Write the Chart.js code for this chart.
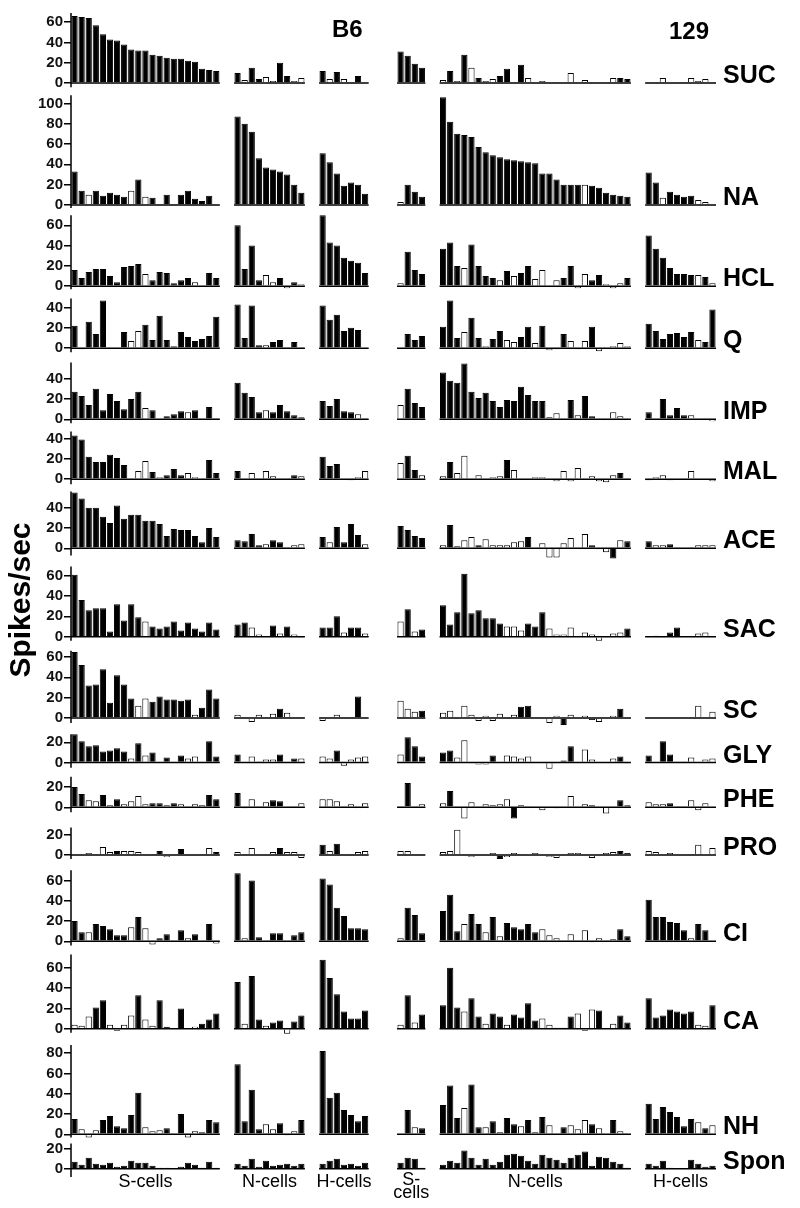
<!DOCTYPE html>
<html>
<head>
<meta charset="utf-8">
<title>Spikes/sec by cell type</title>
<script src="https://cdn.jsdelivr.net/npm/chart.js@4"></script>
<style>
  html, body { margin: 0; padding: 0; background: #fff; }
  canvas { display: block; }
</style>
</head>
<body>
<canvas id="chart" width="800" height="1208"></canvas>
<script>
// cell groups, left to right: B6 S/N/H, then 129 S/N/H
const groupNames = ["S-cells", "N-cells", "H-cells", "S-\ncells", "N-cells", "H-cells"];
const groupSizes = [21, 10, 7, 4, 27, 10];
const gapsBefore = [0, 2, 2, 4, 2, 2];
const strains = ["B6", "129"];

// each row: [B6 S, B6 N, B6 H, 129 S, 129 N, 129 H]
// open bars: "o" = open (white) bar, "." = filled bar
const SUC = [
  [66, 65, 64, 57, 48, 43, 42, 38, 33, 32, 32, 28, 27, 25, 24, 24, 22, 21, 14, 13, 12],
  [10, 3, 15, 4, 6, 2, 20, 7, 2, 5],
  [12, 4, 11, 4, 1, 7, 0],
  [31, 27, 19, 15],
  [3, 12, 2, 28, 15, 5, 2, 4, 7, 14, 1, 18, 5, 1, 2, -1, 1, 0, 10, 0, 3, 1, 0, -1, 5, 5, 4],
  [-1, 1, 5, -1, 0, 1, 5, 2, 4, 0]
];
const SUC_OPEN = "..................... .o..oo..oo .o.o... .... o.o.o.oo..o.ooooo.o.oo.oo.. oooo.oooo.";

const NA = [
  [33, 14, 10, 14, 9, 12, 10, 8, 14, 25, 8, 7, 0, 10, 1, 10, 14, 6, 4, 9, 0],
  [87, 80, 72, 46, 37, 35, 33, 30, 20, 12],
  [51, 42, 31, 19, 22, 20, 11],
  [3, 20, 13, 8],
  [106, 82, 70, 69, 67, 57, 52, 49, 47, 45, 44, 43, 42, 41, 31, 31, 25, 20, 20, 20, 20, 19, 17, 12, 10, 9, 8],
  [32, 22, 7, 13, 10, 8, 9, 5, 3, 0]
];
const NA_OPEN = "..o.....o.o.......... .......... ....... o... ....................o...... ..o....oo.";

const HCL = [
  [16, 8, 14, 17, 17, 10, 4, 19, 20, 22, 12, 6, 14, 13, 3, 6, 8, 4, 0, 13, 8],
  [60, 17, 40, 6, 11, 4, 8, -2, 4, 2],
  [70, 43, 40, 28, 25, 23, 13],
  [3, 34, 16, 12],
  [37, 43, 20, 18, 41, 20, 10, 8, 6, 15, 10, 13, 20, 7, 16, 0, 6, 8, 20, -2, 12, 6, 11, 2, -2, 3, 8],
  [50, 37, 28, 18, 12, 12, 11, 11, 9, 3]
];
const HCL_OPEN = "..........o......o... ....oo.o.o ....... o... ...o....o.o..oo.o..oo..ooo. .......o.o";

const Q = [
  [22, -1, 26, 14, 47, 1, 1, 16, 7, 17, 23, 8, 32, 8, 2, 16, 11, 7, 9, 12, 31],
  [43, 10, 42, 3, 3, 6, 8, 1, 6, 1],
  [42, 28, 33, 17, 20, 18, 0],
  [0, 14, 8, 12],
  [21, 47, 10, 16, 30, 10, 2, 9, 17, 8, 6, 11, 21, 5, 22, -2, -1, 14, 7, -1, 7, 21, -3, 1, 2, 5, 2],
  [24, 17, 9, 14, 15, 11, 16, 8, 6, 38]
];
const Q_OPEN = "......o.oo........... ....o..... ....... .... ...o..o..oo..o.oo.ooo.ooooo .......o..";

const IMP = [
  [27, 23, 14, 30, 9, 25, 18, 10, 20, 27, 11, 9, 0, 3, 5, 8, 7, 9, 0, 12, 1],
  [36, 26, 22, 7, 9, 7, 14, 8, 4, 2],
  [18, 13, 20, 8, 7, 5, 1],
  [14, 30, 16, 12],
  [46, 38, 36, 55, 27, 21, 26, 18, 12, 19, 18, 32, 24, 18, 18, 2, 6, 0, 19, 4, 23, 3, 0, -1, 7, 3, -1],
  [7, 0, 20, 4, 11, 4, 4, -1, 1, -2]
];
const IMP_OPEN = "..........o.....o.... ....o..... .....o. o... ...............oo..o...oooo ......oooo";

const MAL = [
  [43, 39, 22, 17, 17, 24, 21, 14, 0, 8, 18, 7, 2, 4, 10, 4, 6, 2, 0, 19, 6],
  [8, 1, 6, 0, 8, 3, 1, 1, 4, 3],
  [22, 13, 15, 0, -1, 2, 8],
  [16, 23, 9, 4],
  [3, 17, 6, 23, 0, 4, 1, 2, 3, 19, 9, 0, 0, 2, 2, 0, -2, 8, -2, 11, 0, 3, -2, -3, 4, 6, 1],
  [-1, 2, 4, -1, 0, 1, 8, 0, 0, -2]
];
const MAL_OPEN = ".........oo.o...oo... .oo.oooo.o ....ooo o..o o.oo.oooo.o..oo.oooo.oooo.. oooo.oo..o";

const ACE = [
  [55, 49, 40, 40, 31, 25, 42, 29, 33, 33, 27, 27, 24, 12, 19, 18, 18, 12, 6, 20, 11],
  [8, 7, 14, 3, 4, 8, 6, 1, 3, 4],
  [11, 6, 21, 6, 24, 13, 4],
  [22, 18, 12, 10],
  [3, 23, 2, 8, 11, 3, 9, 3, 3, 3, 6, 7, 11, 0, 5, -9, -9, 5, 10, 0, 14, 3, -1, -4, -10, 8, 7],
  [7, 3, 3, 4, 1, 0, 1, 3, 3, 3]
];
const ACE_OPEN = "..................... ....o...oo .o....o .... o.ooo.oooooo..ooooo.o..o.o. .oo....ooo";

const SAC = [
  [61, 36, 26, 28, 28, 5, 32, 16, 32, 19, 15, 10, 8, 10, 15, 6, 14, 8, 5, 14, 7],
  [12, 14, 9, 2, 0, 11, 3, 10, 2, -1],
  [9, 9, 20, 4, 9, 9, 3],
  [15, 27, 5, 7],
  [31, 12, 24, 62, 23, 26, 18, 18, 13, 10, 10, 6, 13, 10, 24, 8, 2, 2, 9, 0, 4, 2, -4, -1, 3, 4, 8],
  [0, 1, -1, 4, 9, 0, 0, 3, 4, 0]
];
const SAC_OPEN = "..........o.......... ..oo..o.o. ...o..o o.o. .........ooo...oooo.oooooo. ..o....oo.";

const SC = [
  [65, 52, 32, 33, 48, 15, 42, 33, 19, 12, 19, 16, 21, 18, 18, 17, 18, 3, 10, 28, 19],
  [3, 1, -4, 3, 1, 4, 9, 5, 0, 1],
  [-3, 0, 3, 0, -1, 21, 0],
  [17, 9, 6, 7],
  [5, 7, -1, 12, 3, -3, 2, -3, 4, -1, 3, 11, 12, 0, 0, -5, 2, -7, 3, 0, 2, -2, -4, 0, 2, 9, 0],
  [0, 0, 1, 0, 0, 0, 0, 12, 1, 6]
];
const SC_OPEN = ".........oo......o... o.oo.o.o.. o.o.... ooo. ooooooooooo....oo.o.o.o.o.. ..o....ooo";

const GLY = [
  [28, 21, 16, 17, 11, 12, 14, 11, 4, 19, 7, 10, 0, 5, 0, 7, 4, 6, 0, 21, 6],
  [8, 0, 6, 1, 3, 3, 8, 0, 4, 4],
  [6, 4, 12, -3, 3, 5, 6],
  [8, 25, 16, 6],
  [10, 12, 5, 22, 0, -2, -2, 7, 0, 7, 6, 4, 6, 0, 0, -6, -1, 2, 16, 0, 13, 3, 0, 0, 4, 6, -1],
  [7, 0, 21, 8, 1, 1, 5, 0, 3, 4]
];
const GLY_OPEN = "........o.o.....oo... ..o.oo...o oo.oooo o... ..oo.oo..oooo..oo...oo..o.. ......o.oo";

const PHE = [
  [20, 13, 7, 6, 12, 2, 8, 3, 6, 11, 3, 4, 4, 2, 4, 3, 0, 3, 2, 12, 8],
  [14, -1, 8, 1, 5, 7, 6, 0, 1, 4],
  [8, 8, 6, 1, 3, -1, 4],
  [1, 24, 1, 3],
  [4, 16, 0, -11, 5, 0, 3, 2, 3, 8, -11, 2, 1, -1, -3, 0, -1, 0, 11, 0, 3, 2, -1, -6, 0, 7, 2],
  [5, 3, 3, 4, 1, 1, 7, -3, 4, -1]
];
const PHE_OPEN = "..oo.o.oooo..o.o.oo.. ..o.o....o ooo.ooo ...o o..oo.oooo.oooo...o.o.oo... ooo...oooo";

const PRO = [
  [0, -1, 2, 1, 8, 3, 4, 4, 4, 3, 0, 1, 4, -2, 0, 6, -1, -1, 1, 7, 3],
  [3, 1, 7, 0, 0, 3, 7, 3, 3, -3],
  [10, 4, 11, 0, -1, 3, 4],
  [4, 4, 0, 1],
  [3, 4, 25, 0, -2, 1, 0, 2, -4, -2, 2, 1, 0, 2, 0, -2, -3, 1, 2, 2, 1, -3, 0, 2, 3, 4, 2],
  [4, 3, -1, 2, 0, 0, 1, 10, 0, 7]
];
const PRO_OPEN = "..o.oo.ooo...o.....o. o.o..o.ooo .o...oo oo.. ooo.oo.o.oo..o.ooooo.o.oo.. oooo...o.o";

const CI = [
  [20, 9, 9, 17, 15, 12, 6, 6, 14, 24, 13, -3, 3, 7, 0, 11, 3, 7, 0, 17, -2],
  [67, 3, 60, 4, 0, 8, 8, -1, 6, 9],
  [62, 56, 33, 25, 13, 13, 12],
  [3, 33, 26, 8],
  [30, 46, 10, 17, 27, 17, 9, 24, 5, 18, 14, 12, 17, 9, 12, 6, 3, 0, 7, 0, 11, -1, 3, 0, 2, 12, 5],
  [41, 24, 24, 19, 18, 11, 3, 17, 11, 0]
];
const CI_OPEN = "..o.....o.oo....o...o .o.....o.. ....... o... ...o..o.o.....ooo.o.o.o.o.. ......o...";

const CA = [
  [4, 3, 12, 21, 28, 4, -2, 4, 13, 33, 9, 3, 28, 2, 0, 20, 0, 2, 5, 9, 15],
  [46, 5, 52, 9, 3, 6, 8, -5, 7, 13],
  [68, 50, 34, 17, 10, 10, 18],
  [4, 33, 6, 14],
  [23, 60, 21, 17, 30, 12, 5, 15, 12, 4, 14, 11, 25, 8, 10, 4, 1, 1, 12, 15, -2, 19, 18, 0, 5, 13, 6],
  [30, 11, 13, 19, 17, 15, 17, 4, 3, 23]
];
const CA_OPEN = "ooo..oooo.oo.....o... .o..o..o.. ....... o.o. ...o..o..o....oo...ooo..o.. .......oo.";

const NH = [
  [15, 5, -3, 4, 14, 18, 8, 6, 19, 41, 7, 3, 4, 6, 0, 20, -3, 3, 2, 14, 12],
  [69, 13, 44, 5, 10, 5, 11, -1, 3, 14],
  [82, 36, 41, 24, 19, 13, 18],
  [0, 24, 7, 6],
  [29, 48, 16, 26, 49, 7, 7, 13, 2, 16, 10, 8, 14, 2, 17, 9, 0, 7, 9, 5, 14, 10, 6, 0, 14, 3, 1],
  [30, 15, 27, 22, 17, 8, 15, 12, 6, 9]
];
const NH_OPEN = ".ooo......ooo...oo... ....oo..o. ....... ..o. ...o..o.o..o.o.o..ooo.o..oo .......o.o";

const SPON = [
  [7, 4, 11, 5, 4, 6, 2, 3, 8, 6, 6, 3, 1, 1, 0, 2, 6, 4, 1, 7, 1],
  [5, 3, 10, 2, 8, 3, 4, 5, 3, 5],
  [5, 8, 10, 4, 5, 3, 6],
  [6, 11, 10, 1],
  [4, 8, 6, 18, 11, 4, 10, 4, 7, 14, 15, 13, 8, 5, 14, 11, 9, 6, 11, 14, 17, 3, 12, 11, 7, 5, 1],
  [5, 3, 8, 1, 0, 0, 9, 5, 2, 3]
];
const SPON_OPEN = "";

const rows = [
  { name: "SUC", values: SUC, open: SUC_OPEN },
  { name: "NA", values: NA, open: NA_OPEN },
  { name: "HCL", values: HCL, open: HCL_OPEN },
  { name: "Q", values: Q, open: Q_OPEN },
  { name: "IMP", values: IMP, open: IMP_OPEN },
  { name: "MAL", values: MAL, open: MAL_OPEN },
  { name: "ACE", values: ACE, open: ACE_OPEN },
  { name: "SAC", values: SAC, open: SAC_OPEN },
  { name: "SC", values: SC, open: SC_OPEN },
  { name: "GLY", values: GLY, open: GLY_OPEN },
  { name: "PHE", values: PHE, open: PHE_OPEN },
  { name: "PRO", values: PRO, open: PRO_OPEN },
  { name: "CI", values: CI, open: CI_OPEN },
  { name: "CA", values: CA, open: CA_OPEN },
  { name: "NH", values: NH, open: NH_OPEN },
  { name: "Spon", values: SPON, open: SPON_OPEN }
];

// y ranges per row (spikes/sec): drawn axis top/bottom and the room each row gets
const axisTop = [69, 108, 70, 49, 56, 47, 56, 69, 66, 28, 30, 27, 70, 73, 88, 25];
const axisBottom = [-4, -3, -3, -4, -4, -5, -7, -4, -5, -5, -5, -4, -4, -4, -3, -8];
const bandTop = [69, 116, 77, 58, 66, 55, 63, 80, 76, 39, 39, 42, 81, 82, 100, 31];
const tickStep = 20;

const FONT = "Arial, 'Liberation Sans', sans-serif";

// category slots, with empty slots between groups
const groupStart = [];
let slotCount = 0;
groupSizes.forEach((n, g) => {
  slotCount += gapsBefore[g];
  groupStart.push(slotCount);
  slotCount += n;
});
const labels = Array.from({ length: slotCount }, (_, i) => String(i));

const datasets = rows.map((row, i) => {
  const data = new Array(slotCount).fill(null);
  const colors = new Array(slotCount).fill("#000");
  const flags = row.open.replace(/ /g, "");
  let k = 0;
  row.values.forEach((vals, g) => {
    vals.forEach((v, j) => {
      data[groupStart[g] + j] = v;
      if (flags[k] === "o") colors[groupStart[g] + j] = "#fff";
      k++;
    });
  });
  return {
    label: row.name,
    data,
    yAxisID: "y" + i,
    backgroundColor: colors,
    borderColor: "#000",
    borderWidth: 1,
    barPercentage: 0.88,
    categoryPercentage: 1,
    grouped: false,
    clip: false
  };
});

const scales = {
  x: { type: "category", display: false, offset: true }
};
// stacked left axes are laid out last-added on top, so add the bottom row first
for (let i = rows.length - 1; i >= 0; i--) {
  const ticks = [];
  for (let v = 0; v <= axisTop[i]; v += tickStep) ticks.push(v);
  scales["y" + i] = {
    type: "linear",
    position: "left",
    stack: "rows",
    stackWeight: bandTop[i] - axisBottom[i],
    min: axisBottom[i],
    max: bandTop[i],
    afterBuildTicks: (scale) => {
      scale.ticks = ticks.map((v) => ({ value: v }));
    },
    afterFit: (scale) => {
      scale.width = 71;
    },
    border: { display: false },
    grid: { drawOnChartArea: false, drawTicks: true, tickLength: 7, color: "#000", lineWidth: 1.5 },
    ticks: { autoSkip: false, padding: 1, color: "#111", font: { family: FONT, size: 15, weight: "bold" } }
  };
}

const decor = {
  id: "decor",
  afterDatasetsDraw(chart) {
    const { ctx, scales: sc, chartArea } = chart;
    const x = sc.x;
    const half = (x.getPixelForValue(1) - x.getPixelForValue(0)) / 2;
    ctx.save();
    ctx.strokeStyle = "#000";
    ctx.fillStyle = "#000";
    ctx.lineWidth = 1.5;
    rows.forEach((row, i) => {
      const y = sc["y" + i];
      const zero = y.getPixelForValue(0);
      ctx.beginPath();
      groupStart.forEach((start, g) => {
        ctx.moveTo(x.getPixelForValue(start) - half, zero);
        ctx.lineTo(x.getPixelForValue(start + groupSizes[g] - 1) + half, zero);
      });
      ctx.moveTo(y.right, y.getPixelForValue(axisBottom[i]));
      ctx.lineTo(y.right, y.getPixelForValue(axisTop[i]));
      ctx.stroke();
      ctx.font = "bold 25px " + FONT;
      ctx.textAlign = "left";
      ctx.textBaseline = "alphabetic";
      ctx.fillText(row.name, x.right + 7, zero);
    });

    // group names under the bottom row
    ctx.font = "18px " + FONT;
    ctx.textAlign = "center";
    groupNames.forEach((name, g) => {
      const cx = (x.getPixelForValue(groupStart[g]) + x.getPixelForValue(groupStart[g] + groupSizes[g] - 1)) / 2;
      name.split("\n").forEach((line, li) => {
        ctx.fillText(line, cx, chartArea.bottom + (name.includes("\n") ? 8 + li * 13 : 10));
      });
    });

    // strain names
    ctx.font = "bold 24px " + FONT;
    ctx.textAlign = "left";
    ctx.fillText(strains[0], 332, 37);
    ctx.fillText(strains[1], 669, 39);

    // y title
    ctx.translate(22, 600);
    ctx.rotate(-Math.PI / 2);
    ctx.font = "bold 30px " + FONT;
    ctx.textAlign = "center";
    ctx.textBaseline = "middle";
    ctx.fillText("Spikes/sec", 0, 0);
    ctx.restore();
  }
};

new Chart(document.getElementById("chart"), {
  type: "bar",
  data: { labels, datasets },
  options: {
    responsive: false,
    animation: false,
    layout: { padding: { top: 13, right: 84, bottom: 31, left: 0 } },
    plugins: { legend: { display: false }, tooltip: { enabled: false } },
    scales
  },
  plugins: [decor]
});
</script>
</body>
</html>
